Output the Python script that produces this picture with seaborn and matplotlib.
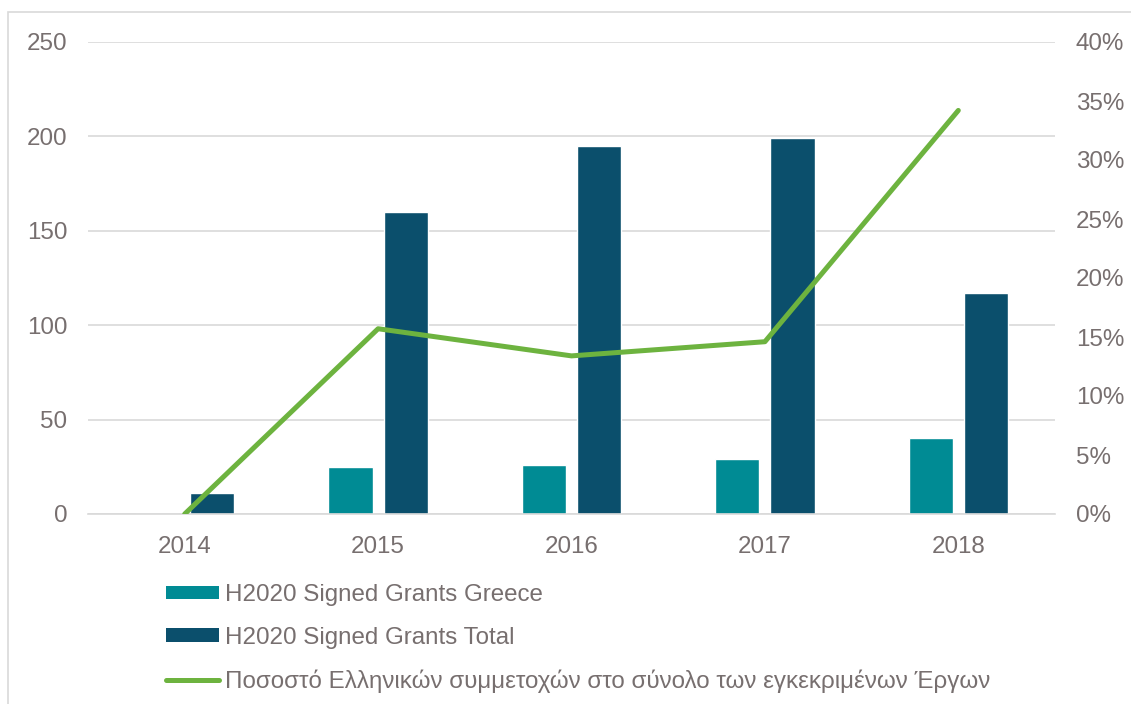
import numpy as np
import pandas as pd
import matplotlib.pyplot as plt
import seaborn as sns
from matplotlib.patches import Rectangle, Patch
from matplotlib.lines import Line2D
from matplotlib.ticker import PercentFormatter

years = ['2014', '2015', '2016', '2017', '2018']
greece = [0, 25, 26, 29, 40]
total = [11, 160, 195, 199, 117]
share = [0.0, 15.7, 13.4, 14.6, 34.2]

lbl_greece = 'H2020 Signed Grants Greece'
lbl_total = 'H2020 Signed Grants Total'
lbl_share = 'Ποσοστό Ελληνικών συμμετοχών στο σύνολο των εγκεκριμένων Έργων'

c_greece = '#008B94'
c_total = '#0B4F6C'
c_share = '#6DB33F'
c_text = '#776F6F'
c_grid = '#D9D9D9'
fs = 17.4

sns.set_style('white')
plt.rcParams['font.family'] = ['Liberation Sans', 'DejaVu Sans']

df = pd.DataFrame({
    'year': years * 2,
    'value': greece + total,
    'series': [lbl_greece] * 5 + [lbl_total] * 5,
})

fig = plt.figure(figsize=(11.31, 7.04), dpi=100)
ax = fig.add_axes([88 / 1131, 1 - 514 / 704, (1055 - 88) / 1131, (514 - 42) / 704])

sns.barplot(data=df, x='year', y='value', hue='series', order=years,
            hue_order=[lbl_greece, lbl_total], palette=[c_greece, c_total],
            width=0.57, gap=0.2, saturation=1, legend=False, ax=ax)

ax.set_ylim(0, 250)
ax.set_yticks([0, 50, 100, 150, 200, 250])
ax.set_xlim(-0.5, 4.5)
ax.yaxis.grid(True, color=c_grid, linewidth=1.2)
ax.set_axisbelow(True)
for s in ['top', 'right', 'left']:
    ax.spines[s].set_visible(False)
ax.spines['bottom'].set_color(c_grid)
ax.spines['bottom'].set_linewidth(1.2)
ax.set_xlabel('')
ax.set_ylabel('')
ax.tick_params(axis='both', length=0, labelsize=fs, colors=c_text)
ax.tick_params(axis='y', pad=15)
ax.tick_params(axis='x', pad=16)

ax2 = ax.twinx()
sns.lineplot(x=np.arange(len(years)), y=share, color=c_share, linewidth=3.6,
             solid_capstyle='round', ax=ax2)
ax2.set_ylim(0, 40)
ax2.set_yticks(range(0, 41, 5))
ax2.yaxis.set_major_formatter(PercentFormatter(decimals=0))
for s in ax2.spines.values():
    s.set_visible(False)
ax2.tick_params(axis='y', length=0, labelsize=fs, colors=c_text, pad=15)
ax2.set_xlim(-0.5, 4.5)

handles = [
    Patch(facecolor=c_greece, edgecolor='none'),
    Patch(facecolor=c_total, edgecolor='none'),
    Line2D([], [], color=c_share, linewidth=3.6, solid_capstyle='round'),
]
fig.legend(handles, [lbl_greece, lbl_total, lbl_share], loc='upper left',
           bbox_to_anchor=(166 / 1131, 1 - 584 / 704), frameon=False,
           fontsize=fs, labelcolor=c_text, handlelength=2.2, handleheight=0.5,
           handletextpad=0.25, labelspacing=0.85, borderpad=0, borderaxespad=0)

fig.patches.append(Rectangle((8 / 1131, -0.1), 1.2, 1 - 12 / 704 + 0.1,
                             transform=fig.transFigure, fill=False,
                             edgecolor=c_grid, linewidth=1.2))

fig.savefig('out.png', dpi=100)
